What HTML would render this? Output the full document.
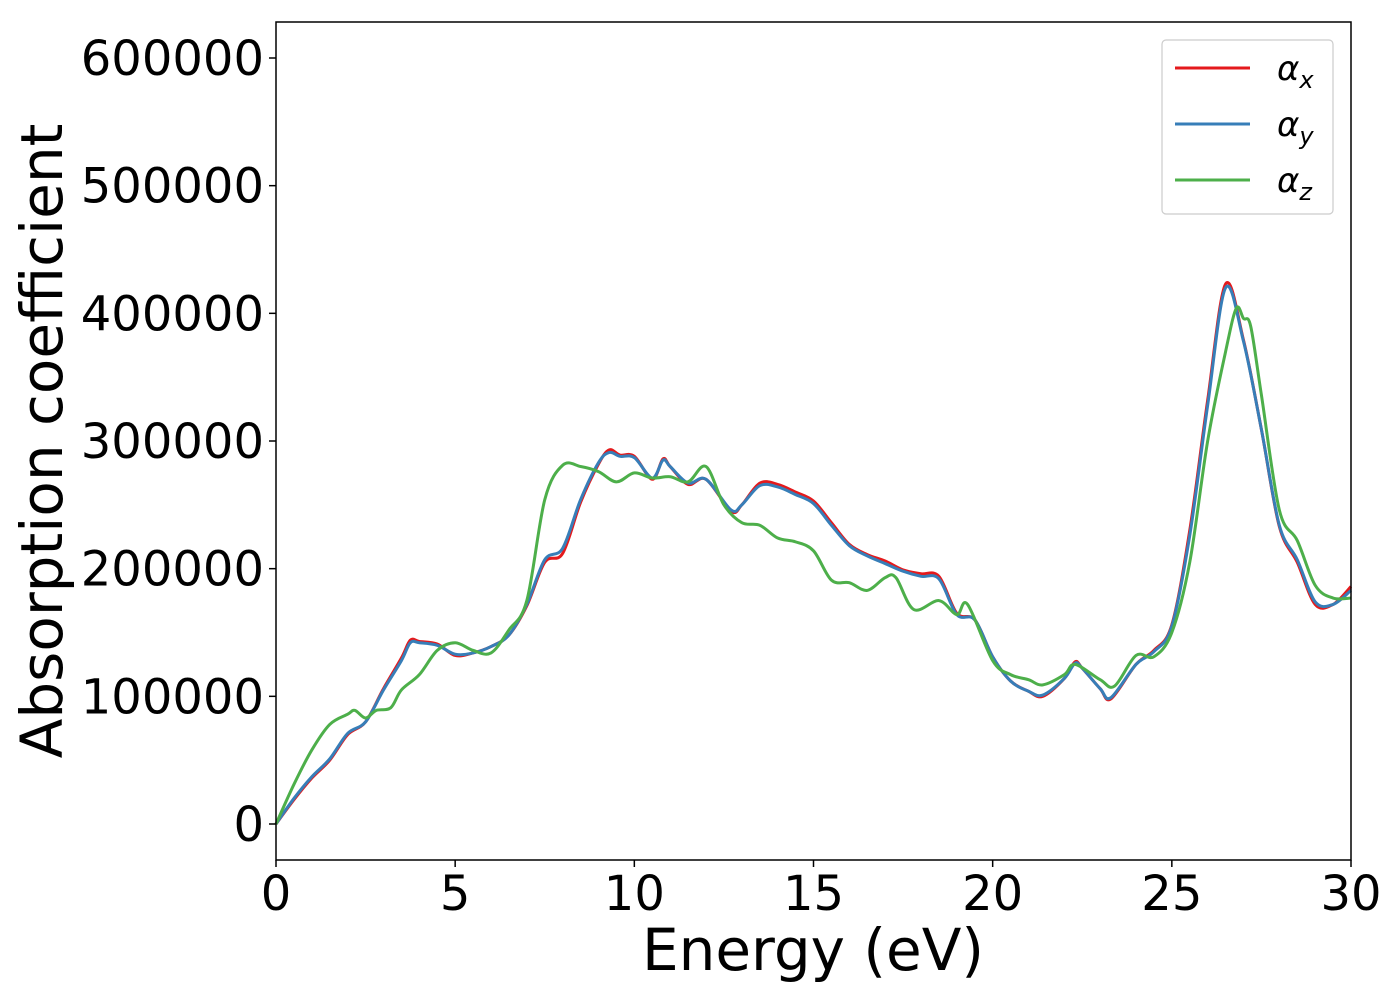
<!DOCTYPE html>
<html><head><meta charset="utf-8"><style>
body{margin:0;background:#fff}
svg{font-family:"DejaVu Sans","Liberation Sans",sans-serif}
</style></head><body>
<svg id="chart" width="1400" height="1000">
<rect x="0" y="0" width="1400" height="1000" fill="#fff"/>
<g id="series"></g>
<rect x="276" y="22" width="1075" height="838" fill="none" stroke="#000" stroke-width="1.5"/>
<g id="ticks"></g>
<text x="813" y="970" text-anchor="middle" font-size="58">Energy (eV)</text>
<text transform="translate(62,441) rotate(-90)" text-anchor="middle" font-size="58">Absorption coefficient</text>
<g>
<rect x="1162" y="40" width="171" height="174" rx="4" fill="#fff" stroke="#ccc" stroke-width="1.2"/>
<line x1="1175" y1="68" x2="1250" y2="68" stroke="#e41a1c" stroke-width="3"/>
<line x1="1175" y1="124" x2="1250" y2="124" stroke="#377eb8" stroke-width="3"/>
<line x1="1175" y1="180" x2="1250" y2="180" stroke="#4daf4a" stroke-width="3"/>
<text x="1277" y="80" font-size="34" font-style="italic">α<tspan font-size="24" dy="8">x</tspan></text>
<text x="1277" y="136" font-size="34" font-style="italic">α<tspan font-size="24" dy="8">y</tspan></text>
<text x="1277" y="192" font-size="34" font-style="italic">α<tspan font-size="24" dy="8">z</tspan></text>
</g>
</svg>
<script>
const xTicks=[0,5,10,15,20,25,30];
const yTicks=[0,100000,200000,300000,400000,500000,600000];
const exE=[0,0.5,1,1.5,2,2.5,3,3.5,3.75,4,4.5,5,5.5,6,6.5,7,7.5,8,8.5,9,9.3,9.6,10,10.5,10.8,11,11.5,12,12.7,13,13.5,14,14.5,15,15.5,16,16.5,17,17.5,18,18.5,19,19.5,20,20.5,21,21.4,22,22.3,22.5,23,23.3,24,24.5,25,25.5,26,26.5,27,27.5,28,28.5,29,29.5,30];
const alphaX=[0,19,36,50,70,80,106,130,144,143,141,132,134,139,148,171,205,212,252,282,293,289,288,270,286,280,266,270,245,250,267,266,260,253,236,219,211,206,199,196,194,165,160,131,112,104,100,114,127,122,106,98,125,136,156,230,332,423,379,309,233,205,172,172,186];
const alphaY=[0,20,37,51,71,80,105,128,142,142,140,133,134,139,148,172,207,216,254,283,291,288,287,271,285,280,267,270,246,250,265,264,258,251,234,218,210,204,198,194,192,164,160,131,112,104,101,114,126,122,106,99,125,135,155,226,328,420,378,309,234,207,174,172,183];
const ezE=[0,0.5,1,1.5,2,2.2,2.5,2.8,3.2,3.5,4,4.5,5,5.5,6,6.5,7,7.5,8,8.5,9,9.5,10,10.5,11,11.5,12,12.5,13,13.5,14,14.5,15,15.5,16,16.5,17,17.3,17.8,18.5,19,19.3,20,20.5,21,21.4,22,22.3,23,23.4,24,24.5,25,25.5,26,26.5,26.8,27,27.2,27.5,28,28.5,29,29.5,30];
const alphaZ=[0,31,58,78,86,89,83,89,91,105,117,136,142,136,134,152,175,254,281,280,276,268,275,271,272,268,280,250,236,234,224,221,214,191,189,183,193,193,168,175,164,172,128,117,113,109,117,125,113,108,132,131,150,205,300,370,404,396,390,336,246,222,187,177,177];
const X=e=>276+e*(1075/30), Y=v=>824-v*(766/600000);
const NS="http://www.w3.org/2000/svg";
function pathD(es,vs){const p=es.map((e,i)=>[X(e),Y(vs[i]*1000)]);let d="M"+p[0][0]+","+p[0][1];
for(let i=0;i<p.length-1;i++){const a=p[Math.max(i-1,0)],b=p[i],c=p[i+1],n=p[Math.min(i+2,p.length-1)];
d+=" C"+(b[0]+(c[0]-a[0])/6)+","+(b[1]+(c[1]-a[1])/6)+" "+(c[0]-(n[0]-b[0])/6)+","+(c[1]-(n[1]-b[1])/6)+" "+c[0]+","+c[1];}return d;}
const g=document.getElementById("series");
[[exE,alphaX,"#e41a1c","series-alpha-x"],[exE,alphaY,"#377eb8","series-alpha-y"],[ezE,alphaZ,"#4daf4a","series-alpha-z"]].forEach(s=>{
const p=document.createElementNS(NS,"path");p.setAttribute("d",pathD(s[0],s[1]));p.setAttribute("fill","none");p.setAttribute("stroke",s[2]);p.setAttribute("stroke-width","3");


g.appendChild(p);});
const t=document.getElementById("ticks");
xTicks.forEach(v=>{const l=document.createElementNS(NS,"line");l.setAttribute("x1",X(v));l.setAttribute("x2",X(v));l.setAttribute("y1",860);l.setAttribute("y2",867);l.setAttribute("stroke","#000");l.setAttribute("stroke-width","1.5");


t.appendChild(l);
const tx=document.createElementNS(NS,"text");tx.setAttribute("x",X(v));tx.setAttribute("y",910);tx.setAttribute("text-anchor","middle");tx.setAttribute("font-size","48");tx.textContent=v;


t.appendChild(tx);});
yTicks.forEach(v=>{const l=document.createElementNS(NS,"line");l.setAttribute("x1",269);l.setAttribute("x2",276);l.setAttribute("y1",Y(v));l.setAttribute("y2",Y(v));l.setAttribute("stroke","#000");l.setAttribute("stroke-width","1.5");


t.appendChild(l);
const tx=document.createElementNS(NS,"text");tx.setAttribute("x",264);tx.setAttribute("y",Y(v)+17);tx.setAttribute("text-anchor","end");tx.setAttribute("font-size","48");tx.textContent=v;


t.appendChild(tx);});
</script>
</body></html>
